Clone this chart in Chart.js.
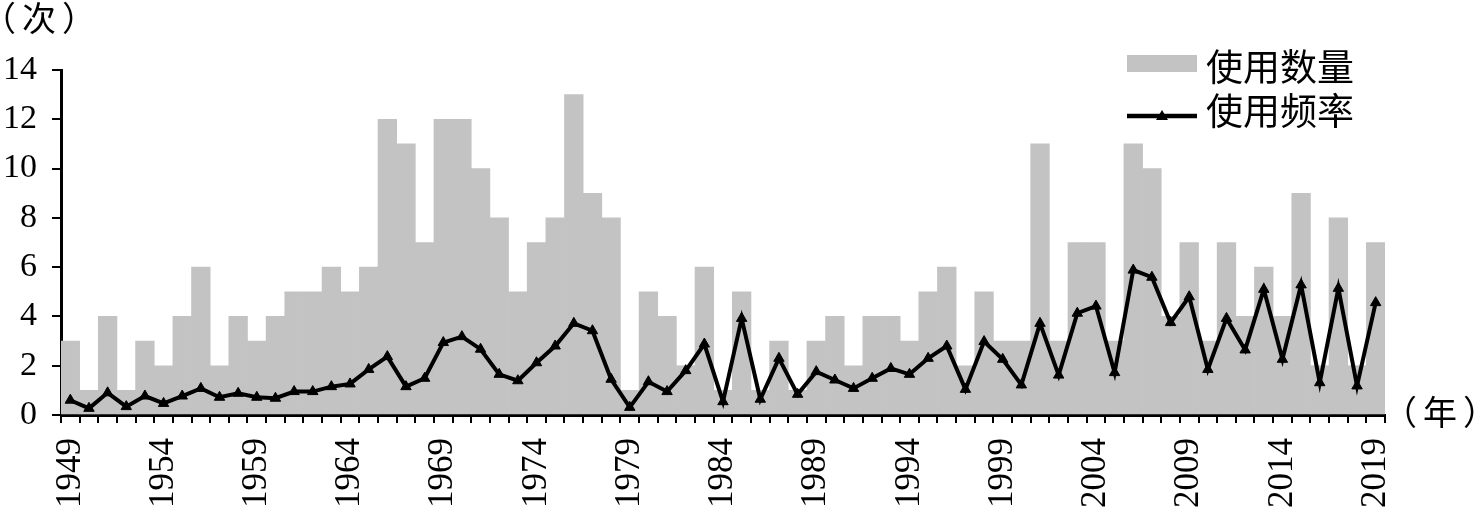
<!DOCTYPE html>
<html>
<head>
<meta charset="utf-8">
<script src="https://cdn.jsdelivr.net/npm/chart.js@4.4.1/dist/chart.umd.min.js"></script>
<style>
    html, body { margin: 0; padding: 0; background: #fff; }
    #wrap { width: 1484px; height: 510px; position: relative; }
</style>
</head>
<body>
<div id="wrap"><canvas id="chart"></canvas></div>
<script>
const years = [];
for (let y = 1949; y <= 2019; y++) {
    years.push(String(y));
}

// 使用数量 (次)
const usageCount = [
    3, 1, 4, 1, 3, 2, 4, 6, 2, 4,
    3, 4, 5, 5, 6, 5, 6, 12, 11, 7,
    12, 12, 10, 8, 5, 7, 8, 13, 9, 8,
    1, 5, 4, 2, 6, 1, 5, 1, 3, 1,
    3, 4, 2, 4, 4, 3, 5, 6, 2, 5,
    3, 3, 11, 3, 7, 7, 3, 11, 10, 4,
    7, 3, 7, 4, 6, 4, 9, 2, 8, 2,
    7,
];

// 使用频率
const usageRate = [
    0.6, 0.27, 0.9, 0.34, 0.77, 0.47, 0.77, 1.08, 0.72, 0.88,
    0.72, 0.68, 0.95, 0.95, 1.15, 1.26, 1.85, 2.37, 1.15, 1.49,
    2.94, 3.18, 2.67, 1.65, 1.39, 2.12, 2.8, 3.72, 3.42, 1.45,
    0.31, 1.35, 0.95, 1.8, 2.88, 0.54, 3.92, 0.64, 2.3, 0.84,
    1.76, 1.42, 1.08, 1.49, 1.89, 1.65, 2.3, 2.8, 1.04, 2.98,
    2.26, 1.22, 3.72, 1.62, 4.13, 4.42, 1.72, 5.88, 5.59, 3.75,
    4.8, 1.85, 3.92, 2.64, 5.1, 2.26, 5.28, 1.31, 5.14, 1.18,
    4.56,
];

const yTicks = [0, 2, 4, 6, 8, 10, 12, 14];
const seriesNames = ['使用数量', '使用频率'];
const yUnit = '（次）';
const xUnit = '（年）';

const serif = "'Liberation Serif', 'Times New Roman', 'Noto Sans CJK SC', serif";
const cjk = "'Noto Sans CJK SC', 'Liberation Serif', sans-serif";

const extras = {
    id: 'extras',
    afterDraw(chart) {
        const { ctx } = chart;
        ctx.save();
        ctx.fillStyle = '#000';
        ctx.textBaseline = 'middle';
        ctx.textAlign = 'center';
        ctx.font = `34px ${cjk}`;
        ctx.letterSpacing = '6px';
        ctx.fillText(yUnit, 42, 18);
        ctx.fillText(xUnit, 1443, 412);
        ctx.letterSpacing = '0px';

        // legend
        const bar = chart.data.datasets[1];
        const line = chart.data.datasets[0];
        const lx = 1127;
        ctx.fillStyle = bar.backgroundColor;
        ctx.fillRect(lx, 55, 70, 17);

        ctx.strokeStyle = line.borderColor;
        ctx.lineWidth = 4.5;
        ctx.beginPath();
        ctx.moveTo(lx, 116);
        ctx.lineTo(lx + 70, 116);
        ctx.stroke();
        ctx.fillStyle = line.borderColor;
        ctx.beginPath();
        ctx.moveTo(lx + 35, 110);
        ctx.lineTo(lx + 41, 120);
        ctx.lineTo(lx + 29, 120);
        ctx.closePath();
        ctx.fill();

        ctx.fillStyle = '#000';
        ctx.textAlign = 'left';
        ctx.font = `37px ${cjk}`;
        ctx.fillText(bar.label, 1206, 67);
        ctx.fillText(line.label, 1206, 111);
        ctx.restore();
    },
};

new Chart(document.getElementById('chart'), {
    data: {
        labels: years,
        datasets: [
            {
                type: 'line',
                label: seriesNames[1],
                data: usageRate,
                borderColor: '#000',
                backgroundColor: '#000',
                borderWidth: 4,
                pointStyle: 'triangle',
                pointRadius: 6,
                pointBackgroundColor: '#000',
                pointBorderColor: '#000',
                pointBorderWidth: 1,
                tension: 0,
                order: 0,
            },
            {
                type: 'bar',
                label: seriesNames[0],
                data: usageCount,
                backgroundColor: '#c3c3c3',
                borderWidth: 0,
                barPercentage: 1,
                categoryPercentage: 1,
                order: 1,
            },
        ],
    },
    options: {
        responsive: true,
        maintainAspectRatio: false,
        animation: false,
        layout: {
            padding: { top: 70, right: 99, left: 0, bottom: 0 },
        },
        plugins: {
            legend: { display: false },
            tooltip: { enabled: false },
        },
        scales: {
            x: {
                offset: true,
                grid: {
                    display: true,
                    offset: true,
                    drawOnChartArea: false,
                    drawTicks: true,
                    tickLength: 8,
                    color: '#000',
                    lineWidth: 2,
                },
                border: { display: true, color: '#000', width: 3 },
                ticks: {
                    autoSkip: false,
                    maxRotation: 90,
                    minRotation: 90,
                    padding: 15,
                    color: '#000',
                    font: { family: serif, size: 35 },
                    callback: (value, index) => ((Number(years[index]) - 1949) % 5 === 0 ? years[index] : ''),
                },
                afterFit: (scale) => { scale.height = 95; },
            },
            y: {
                min: 0,
                max: 14,
                afterBuildTicks: (scale) => {
                    scale.ticks = yTicks.map((v) => ({ value: v }));
                },
                grid: {
                    display: true,
                    drawOnChartArea: false,
                    drawTicks: true,
                    tickLength: 9,
                    color: '#000',
                    lineWidth: 2,
                },
                border: { display: true, color: '#000', width: 3 },
                ticks: {
                    padding: 15,
                    color: '#000',
                    font: { family: serif, size: 34 },
                },
                afterFit: (scale) => { scale.width = 61; },
            },
        },
    },
    plugins: [extras],
});
</script>
</body>
</html>
